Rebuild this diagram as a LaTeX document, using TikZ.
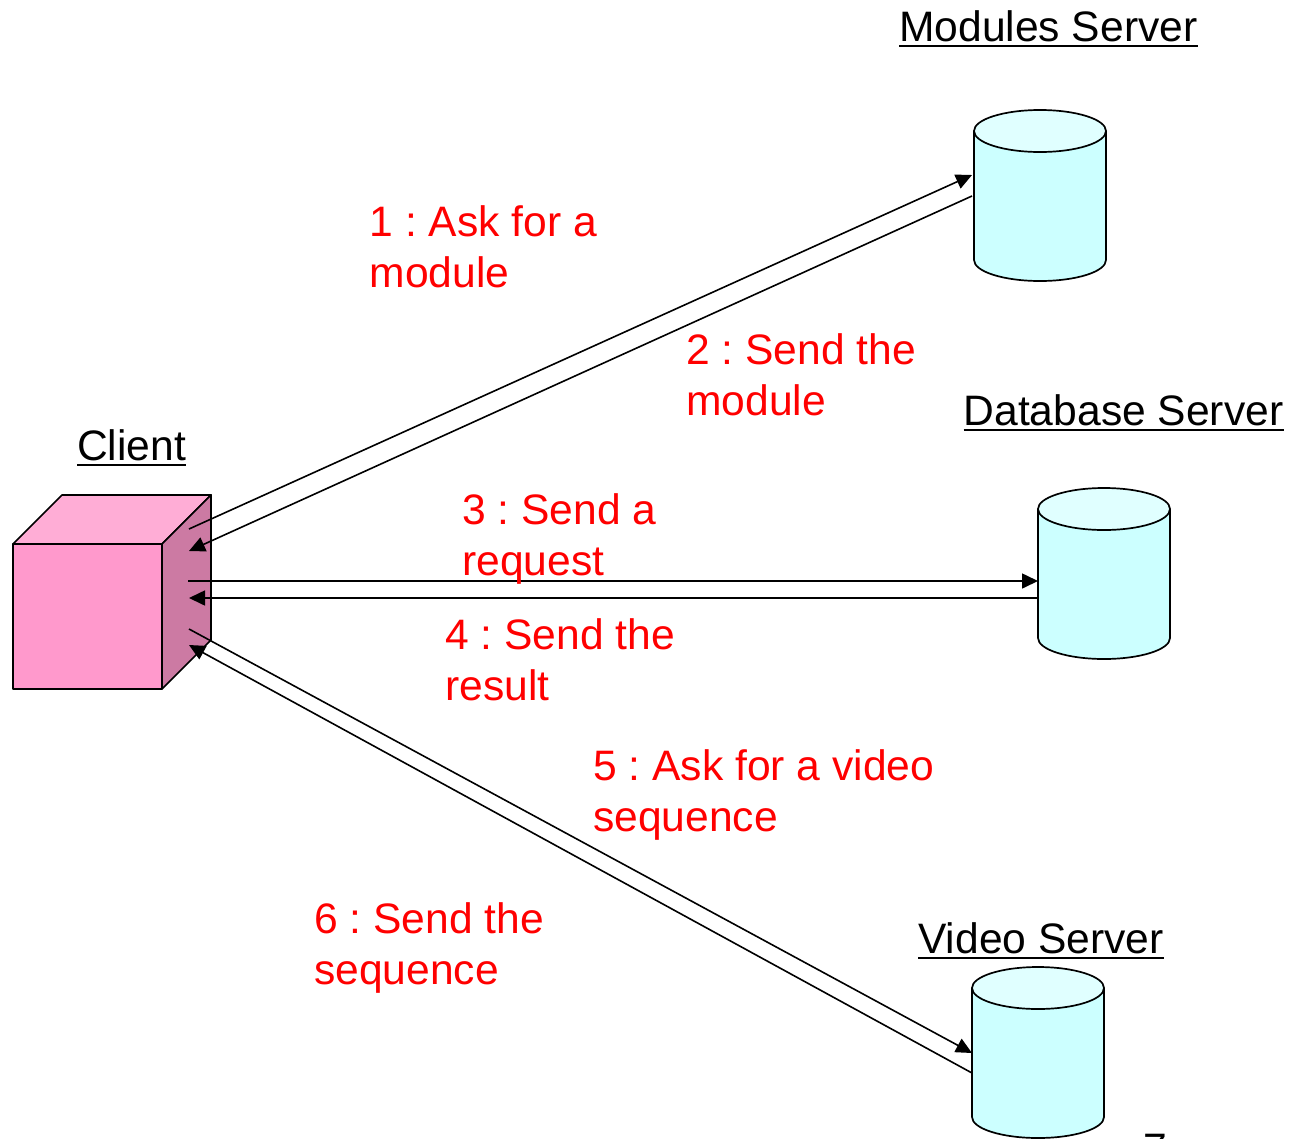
\documentclass[tikz,border=0pt]{standalone}
\usepackage{fontspec}
\setmainfont{Liberation Sans}
\usetikzlibrary{arrows.meta}
\definecolor{cubefront}{HTML}{FF99CC}
\definecolor{cubetop}{HTML}{FFADD6}
\definecolor{cubeside}{HTML}{CC7AA3}
\definecolor{cylbody}{HTML}{CCFFFF}
\definecolor{cyltop}{HTML}{E0FFFF}
\newcommand{\labelfont}{\fontsize{42.6}{50.4}\selectfont\frenchspacing}
\tikzset{
  x=1pt,y=-1pt,
  heading/.style={anchor=base west,inner sep=0pt,font=\labelfont,text=black},
  steplabel/.style={anchor=base west,inner sep=0pt,font=\labelfont,text=red,align=left},
  shapeline/.style={draw=black,line width=1.7pt,line join=round},
  link/.style={draw=black,line width=1.6pt},
  linkarrow/.style={link,-{Triangle[length=16pt,width=15pt]}},
  headrule/.style={draw=black,line width=2.2pt},
  pics/dbcyl/.style={code={
    \path[shapeline,fill=cylbody] (-66,21) -- (-66,150) arc[start angle=180,end angle=360,x radius=66,y radius=-21] -- (66,21) -- cycle;
    \path[shapeline,fill=cyltop] (0,21) ellipse[x radius=66,y radius=21];
  }}
}
\begin{document}
\begin{tikzpicture}
\useasboundingbox (0,0) rectangle (1301,1138);
% client cube
\path[shapeline,fill=cubefront] (13,544) rectangle (162,689);
\path[shapeline,fill=cubetop] (13,544) -- (62,495) -- (211,495) -- (162,544) -- cycle;
\path[shapeline,fill=cubeside] (162,544) -- (211,495) -- (211,640) -- (162,689) -- cycle;
% servers
\pic at (1040,110) {dbcyl};
\pic at (1104,488) {dbcyl};
\pic at (1038,967) {dbcyl};
% connector ends
\coordinate (c1) at (189,529);
\coordinate (c2) at (189,551);
\coordinate (c3) at (188,581);
\coordinate (c4) at (189,598);
\coordinate (c5) at (189,629);
\coordinate (c6) at (189,645);
\coordinate (m1) at (972,175);
\coordinate (m2) at (972,196);
\coordinate (d1) at (1038,581);
\coordinate (d2) at (1038,598);
\coordinate (v1) at (972,1053);
\coordinate (v2) at (972,1073);
\draw[linkarrow] (c1) -- (m1);
\draw[linkarrow] (m2) -- (c2);
\draw[linkarrow] (c3) -- (d1);
\draw[linkarrow] (d2) -- (c4);
\draw[linkarrow] (c5) -- (v1);
\draw[linkarrow] (v2) -- (c6);
% headings
\node[heading] (hm) at (899,41) {Modules Server};
\node[heading] (hd) at (963.5,425) {Database Server};
\node[heading] (hc) at (77,460) {Client};
\node[heading] (hv) at (918,953) {Video Server};
\foreach \h in {hm,hd,hc,hv}{
  \draw[headrule] ([yshift=-5pt]\h.base west) -- ([yshift=-5pt]\h.base east);
}
% step labels (the base of a two-line node is its last line)
\node[steplabel] (s1) at (369.5,287.2) {1 : Ask for a\\module};
\node[steplabel] (s2) at (686,415.2) {2 : Send the\\module};
\node[steplabel] (s3) at (462,575.2) {3 : Send a\\request};
\node[steplabel] (s4) at (445,700.2) {4 : Send the\\result};
\node[steplabel] (s5) at (593,831.2) {5 : Ask for a video\\sequence};
\node[steplabel] (s6) at (314,984.2) {6 : Send the\\sequence};
% page number, cut by the lower edge
\node[heading] (pn) at (1143,1163) {7};
\end{tikzpicture}
\end{document}
